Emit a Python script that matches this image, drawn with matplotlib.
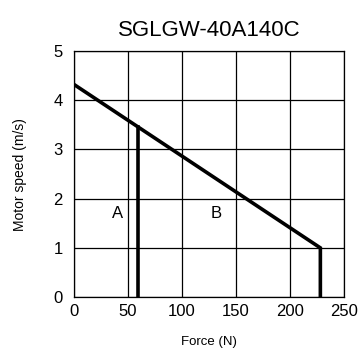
import matplotlib.pyplot as plt

force = [0, 228, 228]
speed = [4.32, 1.0, 0.0]
cont_force = [59, 59]
cont_speed = [0.0, 3.45]
region_labels = ['A', 'B']
label_x = [40, 132]
label_y = [1.7, 1.7]

plt.rcParams['font.family'] = ['Liberation Sans', 'DejaVu Sans']

fig = plt.figure(figsize=(3.63, 3.52), dpi=100)
ax = fig.add_axes([0.204, 0.156, 0.744, 0.699])

ax.plot(force, speed, color='black', lw=2.6, solid_joinstyle='miter')
ax.plot(cont_force, cont_speed, color='black', lw=2.6)
for t, x, y in zip(region_labels, label_x, label_y):
    ax.text(x, y, t, fontsize=12, ha='center', va='center')

ax.set_xlim(0, 250)
ax.set_ylim(0, 5)
ax.set_xticks(range(0, 251, 50))
ax.set_yticks(range(0, 6))
ax.grid(True, color='black', lw=0.9)
for s in ax.spines.values():
    s.set_linewidth(0.9)
ax.tick_params(length=0, labelsize=12, pad=5)
ax.tick_params(axis='y', pad=8)

ax.set_title('SGLGW-40A140C', fontsize=16, pad=11)
ax.set_xlabel('Force (N)', fontsize=9.5, labelpad=12)
ax.set_ylabel('Motor speed (m/s)', fontsize=10, labelpad=19)

fig.savefig('out.png', dpi=100)
